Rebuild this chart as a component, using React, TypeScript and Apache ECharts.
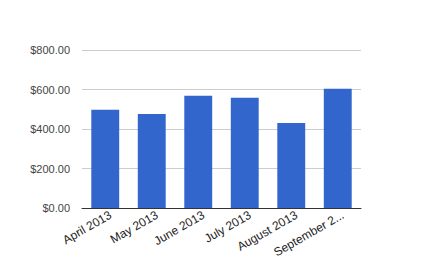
import React, { useEffect, useRef } from "react";
import * as echarts from "echarts";

const categories = ["April 2013", "May 2013", "June 2013", "July 2013", "August 2013", "September 2013"];
const values = [497, 476, 568, 558, 430, 604];
const yTicks = [0, 200, 400, 600, 800];

export default function App() {
  const ref = useRef<HTMLDivElement>(null);
  useEffect(() => {
    if (!ref.current) return;
    const chart = echarts.init(ref.current, undefined, { renderer: "svg" });
    chart.setOption({
      animation: false,
      grid: { left: 82, right: 81, top: 50, bottom: 50, containLabel: false, outerBoundsMode: "none" },
      xAxis: {
        type: "category",
        data: categories,
        axisLine: { show: true, lineStyle: { color: "#333", width: 1 } },
        axisTick: { show: false },
        axisLabel: {
          rotate: 30,
          interval: 0,
          margin: 9,
          padding: [0, -6, 0, 0],
          color: "#222",
          fontFamily: "Liberation Sans, Arial, sans-serif",
          fontSize: 12,
          formatter: (s: string) => (s.length > 12 ? s.slice(0, 11) + "..." : s),
        },
      },
      yAxis: {
        type: "value",
        min: yTicks[0],
        max: yTicks[yTicks.length - 1],
        interval: 200,
        axisLine: { show: false },
        axisTick: { show: false },
        splitLine: { lineStyle: { color: "#cccccc", width: 1 } },
        axisLabel: {
          margin: 12,
          color: "#444",
          fontFamily: "Liberation Sans, Arial, sans-serif",
          fontSize: 11,
          formatter: (v: number) => "$" + v.toFixed(2),
        },
      },
      series: [
        {
          type: "bar",
          data: values,
          barWidth: "60%",
          itemStyle: { color: "#3366cc" },
        },
      ],
    });
    return () => chart.dispose();
  }, []);
  return <div ref={ref} style={{ width: 442, height: 258, position: "absolute", left: 0, top: 0 }} />;
}
